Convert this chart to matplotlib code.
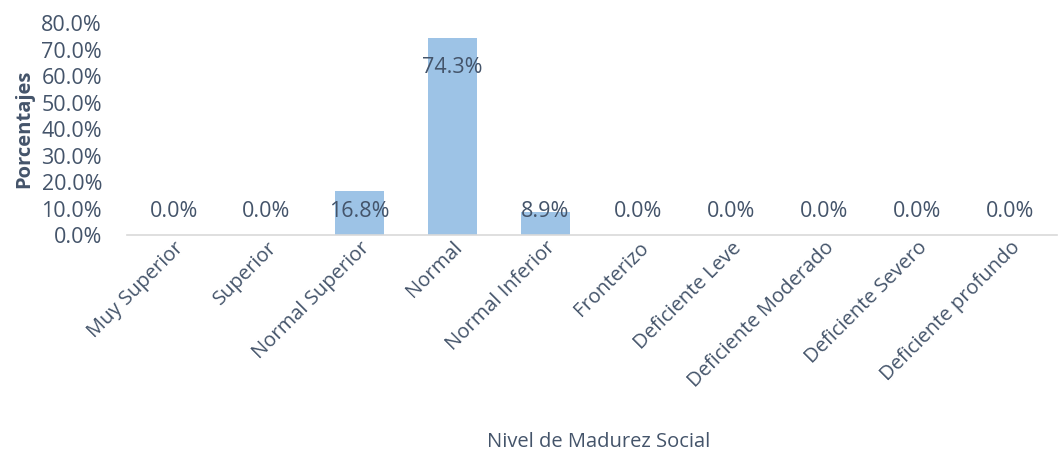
import matplotlib.pyplot as plt

## data
categorias = ["Muy Superior", "Superior", "Normal Superior", "Normal", "Normal Inferior",
              "Fronterizo", "Deficiente Leve", "Deficiente Moderado", "Deficiente Severo",
              "Deficiente profundo"]
porcentajes = [0.0, 0.0, 16.8, 74.3, 8.9, 0.0, 0.0, 0.0, 0.0, 0.0]
yticks = [0, 10, 20, 30, 40, 50, 60, 70, 80]

texto = "#44546A"
plt.rcParams['font.family'] = ['Open Sans', 'DejaVu Sans']

fig = plt.figure(figsize=(10.59, 4.53), dpi=100)
ax = fig.add_axes([0.12, 0.481, 0.878, 0.468])

x = range(len(categorias))
ax.bar(x, porcentajes, width=0.52, color="#9DC3E6", zorder=2)

## data labels
for i, v in zip(x, porcentajes):
    ax.text(i, max(v - 11, 9), f"{v:.1f}%", ha="center", va="center",
            fontsize=15.5, color=texto, zorder=3)

ax.set_xlim(-0.5, len(categorias) - 0.5)
ax.set_ylim(0, 80)
ax.set_yticks(yticks)
ax.set_yticklabels([f"{t:.1f}%" for t in yticks], fontsize=15.5, color=texto)
ax.set_xticks(list(x))
ax.set_xticklabels(categorias, rotation=45, ha="right", rotation_mode="anchor",
                   fontsize=14.5, color=texto)
ax.tick_params(axis="y", length=0, pad=18)
ax.tick_params(axis="x", length=0, pad=2)

for s in ["top", "right", "left"]:
    ax.spines[s].set_visible(False)
ax.spines["bottom"].set_color("#D9D9D9")
ax.spines["bottom"].set_linewidth(1.2)

ax.set_ylabel("Porcentajes", fontsize=14.5, fontweight="bold", color=texto)
ax.yaxis.set_label_coords(-0.1, 0.5)
fig.text(0.565, 0.014, "Nivel de Madurez Social", ha="center", fontsize=14.5, color=texto)

plt.savefig("out.png", dpi=100)
